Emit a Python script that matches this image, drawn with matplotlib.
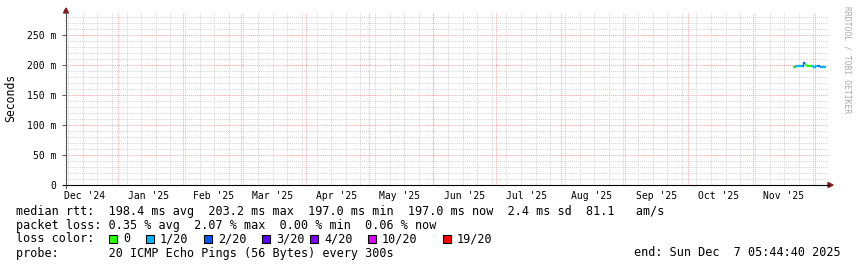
import matplotlib
matplotlib.use('Agg')
import matplotlib.pyplot as plt
import pandas as pd
from matplotlib.patches import Rectangle

W, H = 857, 267

# time window of the graph
start = pd.Timestamp('2024-12-07 05:44:40')
end = pd.Timestamp('2025-12-07 05:44:40')

# daily median rtt (ms) and lost pings out of 20
days = pd.date_range('2025-11-20 05:44:40', periods=17, freq='D')
median_ms = [197.5, 198.0, 198.0, 198.0, 198.5, 203.2, 199.5, 199.0,
             199.0, 198.5, 197.5, 198.0, 198.5, 197.5, 197.5, 197.0]
loss = [0, 1, 1, 1, 1, 2, 0, 0, 0, 1, 1, 1, 2, 1, 1, 1]

loss_steps = [0, 1, 2, 3, 4, 10, 19]
loss_labels = ['0', '1/20', '2/20', '3/20', '4/20', '10/20', '19/20']
loss_colors = ['#26ff00', '#00b8ff', '#0059ff', '#5e00ff', '#7e00ff', '#dd00ff', '#ff0000']

yticks = [0, 50, 100, 150, 200, 250]
ytick_labels = ['0', '50 m', '100 m', '150 m', '200 m', '250 m']

legend_lines = [
    'median rtt:  198.4 ms avg  203.2 ms max  197.0 ms min  197.0 ms now  2.4 ms sd  81.1   am/s',
    'packet loss: 0.35 % avg  2.07 % max  0.00 % min  0.06 % now',
]
probe_text = 'probe:       20 ICMP Echo Pings (56 Bytes) every 300s'
end_text = 'end: Sun Dec  7 05:44:40 2025'

MONO = 'DejaVu Sans Mono'
FS = 8.5


def fx(x):
    return x / W


def fy(y):
    return 1 - y / H


fig = plt.figure(figsize=(W / 100, H / 100), dpi=100)
ax = fig.add_axes([fx(66), fy(185), fx(828) - fx(66), fy(13) - fy(185)])

ax.set_xlim(start, end)
ax.set_ylim(0, 287)

# grid: minor gray, major red, all dotted
dot = (0, (1, 1))
for v in range(10, 287, 10):
    if v % 50:
        ax.axhline(v, color='#d2d2d2', lw=0.7, ls=dot, zorder=0)
for v in yticks[1:]:
    ax.axhline(v, color='#efaaaa', lw=0.7, ls=dot, zorder=1)

for d in pd.date_range(start, end, freq='W-SUN'):
    ax.axvline(d, color='#d2d2d2', lw=0.7, ls=dot, zorder=0)
month_starts = pd.date_range(start, end, freq='MS')
for d in month_starts:
    ax.axvline(d, color='#efaaaa', lw=0.7, ls=dot, zorder=1)

# median line colored by loss
color_of = dict(zip(loss_steps, loss_colors))
for i, v in enumerate(median_ms):
    c = color_of[loss[i]]
    ax.plot([days[i], days[i + 1]], [v, v], color=c, lw=1.6,
            solid_capstyle='butt', zorder=3)
    if i > 0:
        ax.plot([days[i], days[i]], [median_ms[i - 1], v], color=c, lw=1.0, zorder=3)

# axes
for s in ['top', 'right', 'left', 'bottom']:
    ax.spines[s].set_visible(False)
ax.set_yticks(yticks)
ax.set_yticklabels(ytick_labels, family=MONO, fontsize=7)
ax.tick_params(axis='y', length=3, width=0.7, color='#555555', pad=4)

# month labels at mid-month
mid_months = [d + pd.Timedelta(days=15) for d in pd.date_range('2024-12-01', '2025-11-01', freq='MS')]
ax.set_xticks(mid_months)
ax.set_xticklabels([d.strftime("%b '%y") for d in mid_months], family=MONO, fontsize=7)
ax.tick_params(axis='x', length=0, pad=4)

# axis lines with arrows
fig.add_artist(plt.Line2D([fx(63), fx(829)], [fy(185), fy(185)], color='black', lw=0.8))
fig.add_artist(plt.Line2D([fx(66), fx(66)], [fy(188), fy(12)], color='#555555', lw=0.8))
fig.patches.append(plt.Polygon([[fx(828), fy(182.5)], [fx(828), fy(187.5)], [fx(833), fy(185)]],
                               closed=True, color='#8b1a1a', transform=fig.transFigure, figure=fig))
fig.patches.append(plt.Polygon([[fx(63.5), fy(13)], [fx(68.5), fy(13)], [fx(66), fy(8)]],
                               closed=True, color='#8b1a1a', transform=fig.transFigure, figure=fig))

fig.text(fx(11), fy(98), 'Seconds', rotation=90, family=MONO, fontsize=8.3,
         ha='center', va='center')
fig.text(fx(847), fy(60), 'RRDTOOL / TOBI OETIKER', rotation=270, family=MONO,
         fontsize=5.8, color='#aaaaaa', ha='center', va='center')

# legend text
fig.text(fx(16), fy(211), legend_lines[0], family=MONO, fontsize=FS, va='center')
fig.text(fx(16), fy(225), legend_lines[1], family=MONO, fontsize=FS, va='center')
fig.text(fx(16), fy(239), 'loss color:', family=MONO, fontsize=FS, va='center')
sq_x = [109, 146, 204, 262, 310, 368, 443]
for x, lab, c in zip(sq_x, loss_labels, loss_colors):
    fig.patches.append(Rectangle((fx(x), fy(243)), 8 / W, 8 / H, facecolor=c,
                                 edgecolor='black', lw=0.8, transform=fig.transFigure, figure=fig))
    fig.text(fx(x + 14), fy(239), lab, family=MONO, fontsize=FS, va='center')
fig.text(fx(16), fy(253), probe_text, family=MONO, fontsize=FS, va='center')
fig.text(fx(841), fy(253), end_text, family=MONO, fontsize=FS, va='center', ha='right')

fig.savefig('out.png', dpi=100)
